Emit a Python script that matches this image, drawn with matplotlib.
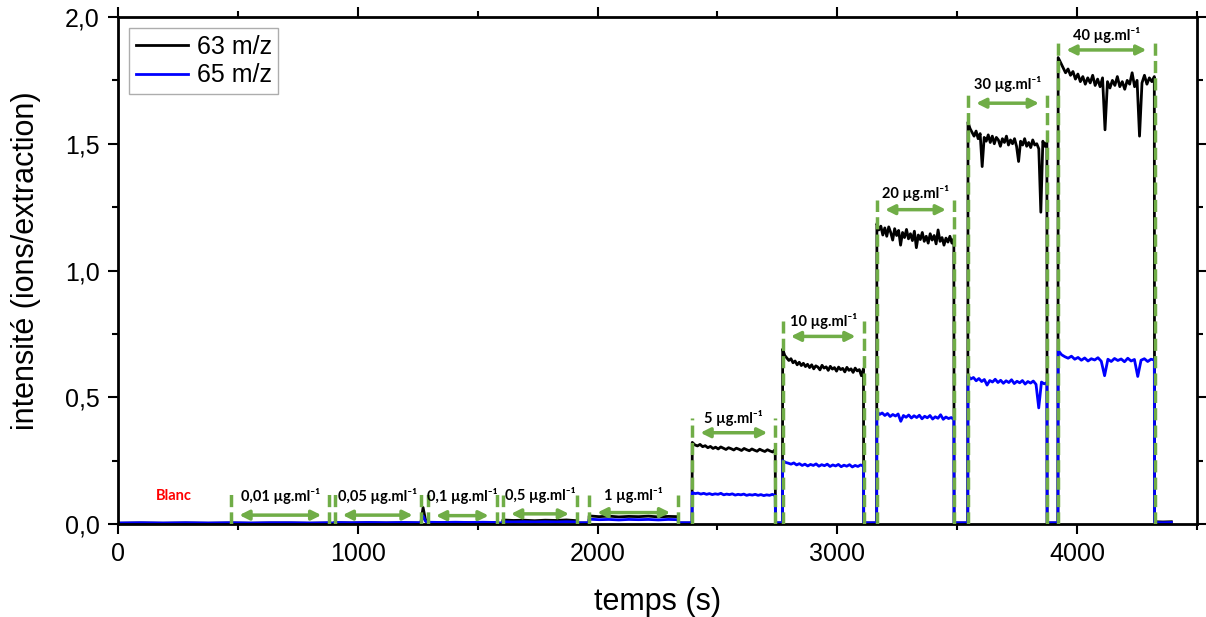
import numpy as np
import matplotlib
matplotlib.use("Agg")
import matplotlib.pyplot as plt
from matplotlib.ticker import MultipleLocator, FuncFormatter

plt.rcParams['font.family'] = ['Liberation Sans', 'DejaVu Sans']

# bornes des segments (s) : blanc, plateaux et retours à la ligne de base
bornes = [0, 472, 882, 903, 1263, 1292, 1580, 1605, 1915, 1965, 2337, 2395,
          2742, 2772, 3110, 3165, 3487, 3545, 3875, 3921, 4323, 4394]

s63 = [
    [0.003, 0.004, 0.003, 0.004, 0.003, 0.004],
    [0.004, 0.003, 0.004, 0.004, 0.003, 0.004],
    [0.003, 0.003],
    [0.005, 0.004, 0.005, 0.004, 0.005, 0.004],
    [0.004, 0.065, 0.020, 0.004],
    [0.006, 0.005, 0.006, 0.005, 0.006, 0.005],
    [0.003, 0.003],
    [0.016, 0.014, 0.015, 0.013, 0.015, 0.014, 0.016, 0.013],
    [0.004, 0.004],
    [0.032, 0.029, 0.031, 0.028, 0.030, 0.029, 0.031, 0.028, 0.030, 0.029],
    [0.004, 0.004],
    [0.322, 0.312, 0.308, 0.314, 0.305, 0.309, 0.301, 0.306, 0.298, 0.303,
     0.296, 0.304, 0.299, 0.294, 0.301, 0.297, 0.292, 0.299, 0.295, 0.290,
     0.298, 0.293, 0.289, 0.296, 0.291, 0.287, 0.295, 0.290, 0.286, 0.293,
     0.288, 0.284, 0.294],
    [0.004, 0.004],
    [0.690, 0.665, 0.655, 0.645, 0.652, 0.636, 0.643, 0.628, 0.638, 0.625,
     0.634, 0.621, 0.630, 0.617, 0.628, 0.612, 0.624, 0.619, 0.608, 0.626,
     0.615, 0.620, 0.606, 0.622, 0.611, 0.617, 0.603, 0.619, 0.609, 0.614,
     0.600, 0.618, 0.606, 0.612, 0.598, 0.615, 0.604, 0.609, 0.585, 0.612],
    [0.004, 0.004],
    [1.185, 1.160, 1.175, 1.140, 1.168, 1.135, 1.172, 1.150, 1.120, 1.165,
     1.138, 1.158, 1.100, 1.150, 1.130, 1.162, 1.125, 1.145, 1.118, 1.155,
     1.090, 1.140, 1.122, 1.150, 1.115, 1.135, 1.108, 1.145, 1.120, 1.138,
     1.105, 1.160, 1.115, 1.130, 1.100, 1.128, 1.112, 1.135, 1.108, 1.125],
    [0.004, 0.004],
    [1.585, 1.560, 1.545, 1.530, 1.550, 1.520, 1.540, 1.410, 1.525, 1.510,
     1.535, 1.505, 1.530, 1.500, 1.525, 1.515, 1.490, 1.520, 1.505, 1.530,
     1.495, 1.515, 1.500, 1.520, 1.490, 1.430, 1.510, 1.495, 1.520, 1.490,
     1.505, 1.485, 1.515, 1.495, 1.500, 1.480, 1.230, 1.510, 1.490, 1.505],
    [0.004, 0.004],
    [1.840, 1.820, 1.800, 1.780, 1.795, 1.770, 1.785, 1.755, 1.775, 1.745,
     1.765, 1.735, 1.760, 1.740, 1.770, 1.730, 1.755, 1.725, 1.760, 1.555,
     1.745, 1.720, 1.750, 1.730, 1.765, 1.725, 1.745, 1.715, 1.750, 1.735,
     1.780, 1.725, 1.750, 1.530, 1.740, 1.770, 1.735, 1.760, 1.745, 1.765],
    [0.009, 0.008, 0.009],
]

s65 = [
    [0.004, 0.005, 0.004, 0.005, 0.004, 0.005],
    [0.005, 0.004, 0.005, 0.005, 0.004, 0.005],
    [0.004, 0.004],
    [0.006, 0.005, 0.006, 0.005, 0.006, 0.005],
    [0.004, 0.032, 0.012, 0.004],
    [0.007, 0.006, 0.007, 0.006, 0.007, 0.006],
    [0.004, 0.004],
    [0.009, 0.008, 0.009, 0.008, 0.009, 0.008, 0.009, 0.008],
    [0.005, 0.005],
    [0.019, 0.017, 0.018, 0.016, 0.018, 0.017, 0.018, 0.016, 0.018, 0.017],
    [0.005, 0.005],
    [0.124, 0.120, 0.122, 0.118, 0.121, 0.117, 0.120, 0.116, 0.119, 0.117,
     0.121, 0.115, 0.118, 0.116, 0.119, 0.114, 0.117, 0.115, 0.118, 0.113,
     0.116, 0.114, 0.117, 0.113, 0.116, 0.112, 0.115, 0.113, 0.117, 0.112],
    [0.005, 0.005],
    [0.250, 0.243, 0.240, 0.236, 0.241, 0.233, 0.238, 0.231, 0.236, 0.229,
     0.235, 0.231, 0.237, 0.228, 0.234, 0.230, 0.236, 0.227, 0.233, 0.229,
     0.235, 0.226, 0.232, 0.228, 0.234, 0.225, 0.231, 0.227, 0.233, 0.228],
    [0.005, 0.005],
    [0.445, 0.432, 0.438, 0.428, 0.436, 0.424, 0.432, 0.426, 0.434, 0.405,
     0.428, 0.421, 0.430, 0.418, 0.427, 0.420, 0.429, 0.415, 0.425, 0.419,
     0.428, 0.414, 0.423, 0.417, 0.431, 0.413, 0.422, 0.416, 0.420, 0.412],
    [0.005, 0.005],
    [0.585, 0.572, 0.578, 0.565, 0.574, 0.562, 0.570, 0.548, 0.566, 0.560,
     0.571, 0.558, 0.567, 0.555, 0.565, 0.558, 0.569, 0.554, 0.563, 0.557,
     0.566, 0.552, 0.562, 0.556, 0.564, 0.551, 0.458, 0.560, 0.553, 0.558],
    [0.005, 0.005],
    [0.685, 0.668, 0.660, 0.654, 0.662, 0.650, 0.657, 0.646, 0.655, 0.643,
     0.652, 0.647, 0.656, 0.642, 0.585, 0.650, 0.641, 0.653, 0.645, 0.651,
     0.640, 0.654, 0.643, 0.649, 0.582, 0.646, 0.652, 0.641, 0.650, 0.647],
    [0.006, 0.005, 0.006],
]

# concentrations : début, fin, hauteur des pointillés, flèche, étiquette
conc = ['0,01', '0,05', '0,1', '0,5', '1', '5', '10', '20', '30', '40']
debut = [472, 903, 1292, 1605, 1965, 2395, 2772, 3165, 3545, 3921]
fin = [882, 1263, 1580, 1915, 2337, 2742, 3110, 3487, 3875, 4323]
haut = [0.125, 0.125, 0.125, 0.115, 0.115, 0.42, 0.80, 1.28, 1.71, 1.91]
y_fleche = [0.035, 0.035, 0.033, 0.04, 0.045, 0.36, 0.74, 1.24, 1.66, 1.87]
y_etiq = [0.11, 0.11, 0.11, 0.115, 0.115, 0.42, 0.80, 1.305, 1.735, 1.93]


def serie(segments):
    t, y = [], []
    for k, vals in enumerate(segments):
        t.append(np.linspace(bornes[k], bornes[k + 1] - 1, len(vals)))
        y.append(vals)
    return np.concatenate(t), np.concatenate(y)


t63, y63 = serie(s63)
t65, y65 = serie(s65)

vert = '#70AD47'
fig = plt.figure(figsize=(12.06, 6.17), dpi=100)
ax = fig.add_axes([118 / 1206, 1 - 524 / 617, 1079 / 1206, 507 / 617])

ax.plot(t63, y63, color='black', lw=2.0, label='63 m/z')
ax.plot(t65, y65, color='#0000FF', lw=2.0, label='65 m/z')

for i in range(len(conc)):
    for x in (debut[i], fin[i]):
        ax.plot([x, x], [0, haut[i]], color=vert, lw=2.5, dashes=(3.5, 1.5), zorder=4)
    ax.annotate('', xy=(fin[i] - 34, y_fleche[i]), xytext=(debut[i] + 34, y_fleche[i]),
                arrowprops=dict(arrowstyle='<|-|>', color=vert, lw=2.5,
                                mutation_scale=14, shrinkA=0, shrinkB=0), zorder=5)
    ax.text((debut[i] + fin[i]) / 2, y_etiq[i], conc[i] + ' µg.ml⁻¹', ha='center', va='center',
            fontsize=10.5, fontweight='bold', family=['Lato', 'DejaVu Sans'], zorder=6)

ax.text(234, 0.11, 'Blanc', color='red', ha='center', va='center', fontsize=10.5,
        fontweight='bold', family=['Lato', 'DejaVu Sans'])

ax.set_xlim(0, 4500)
ax.set_ylim(0, 2.0)
ax.xaxis.set_major_locator(MultipleLocator(1000))
ax.xaxis.set_minor_locator(MultipleLocator(500))
ax.yaxis.set_major_locator(MultipleLocator(0.5))
ax.yaxis.set_minor_locator(MultipleLocator(0.25))
ax.yaxis.set_major_formatter(FuncFormatter(lambda v, p: f'{v:.1f}'.replace('.', ',')))
ax.tick_params(which='both', direction='out', top=True, right=True, width=1.5, labelsize=18)
ax.tick_params(which='major', length=7, pad=6)
ax.tick_params(which='minor', length=4)
for s in ax.spines.values():
    s.set_linewidth(2)

ax.set_xlabel('temps (s)', fontsize=22, labelpad=15)
ax.set_ylabel('intensité (ions/extraction)', fontsize=22)
ax.yaxis.set_label_coords(-0.071, 0.52)

leg = ax.legend(loc='upper left', fontsize=18, frameon=True, fancybox=False,
                handlelength=2.1, borderpad=0.25, labelspacing=0.2, handletextpad=0.35,
                bbox_to_anchor=(0.0, 1.0), borderaxespad=0.45)
leg.get_frame().set_edgecolor('#999999')
leg.get_frame().set_linewidth(1)
for l in leg.get_lines():
    l.set_linewidth(2)

fig.savefig('out.png', dpi=100)
